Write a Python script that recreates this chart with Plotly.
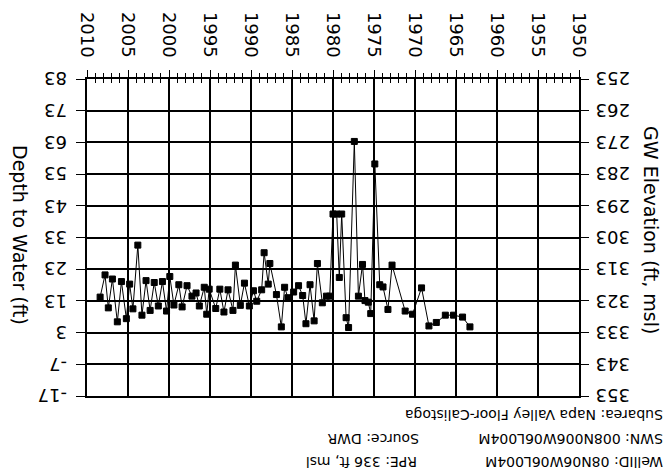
import plotly.graph_objects as go

years = [2008.4, 2007.8, 2007.4, 2006.9, 2006.3, 2005.8, 2005.2, 2004.8, 2004.4, 2003.8,
         2003.3, 2002.8, 2002.3, 2001.8, 2001.3, 2000.8, 2000.3, 1999.9, 1999.4, 1998.8,
         1998.4, 1997.8, 1997.2, 1996.7, 1996.3, 1995.7, 1995.4, 1995.1, 1994.3, 1993.8,
         1993.3, 1992.8, 1992.2, 1991.9, 1991.3, 1990.8, 1990.2, 1989.7, 1989.3, 1988.7,
         1988.4, 1987.9, 1987.7, 1986.9, 1986.3, 1985.9, 1985.5, 1984.8, 1984.2, 1983.7,
         1983.3, 1982.8, 1982.3, 1981.9, 1981.3, 1980.8, 1980.4, 1980.0, 1979.55, 1979.23,
         1978.94, 1978.4, 1978.1, 1977.4, 1976.9, 1976.4, 1976.1, 1975.7, 1975.4, 1974.9,
         1974.3, 1973.9, 1973.3, 1972.8, 1971.2, 1970.3, 1969.2, 1968.3, 1967.4, 1966.3,
         1965.3, 1964.2, 1963.3]
depth = [14.2, 21.2, 10.8, 19.9, 6.4, 19.1, 7.4, 18.3, 10.5, 30.6,
         8.5, 19.4, 10.0, 18.8, 11.4, 19.1, 9.8, 20.7, 11.7, 18.1,
         11.1, 17.8, 14.5, 15.5, 11.4, 17.3, 8.8, 16.7, 10.6, 16.7,
         9.5, 16.5, 10.0, 24.3, 11.6, 18.6, 11.4, 16.2, 12.9, 16.5,
         28.2, 18.3, 24.8, 15.0, 4.8, 17.3, 14.0, 15.8, 17.8, 14.7,
         5.8, 18.1, 6.7, 24.8, 12.4, 14.5, 14.5, 40.4, 40.4, 20.4,
         40.4, 7.7, 4.6, 63.3, 14.5, 24.5, 13.1, 12.6, 9.0, 56.2,
         18.1, 17.4, 10.3, 24.3, 9.8, 8.8, 17.1, 5.1, 6.2, 8.5,
         8.5, 7.9, 4.8]

depth_ticks = [83, 73, 63, 53, 43, 33, 23, 13, 3, -7, -17]
elev_ticks = [253, 263, 273, 283, 293, 303, 313, 323, 333, 343, 353]
year_ticks = [2010, 2005, 2000, 1995, 1990, 1985, 1980, 1975, 1970, 1965, 1960, 1955, 1950]

title_left = "Depth to Water (ft)"
title_right = "GW Elevation (ft, msl)"
info_texts = ["Subarea: Napa Valley Floor-Calistoga", "SWN: 008N006W06L004M", "Source: DWR",
              "WellID: 08N06W06L004M", "RPE: 336 ft, msl"]

FONT = "DejaVu Sans"
L, R, T, B = 87, 91, 75, 79
PW = 670 - L - R
PH = 475 - T - B


def px_x(xp):
    return (xp - L) / PW


def px_y(yp):
    return 1 - (yp - T) / PH


fig = go.Figure()
fig.add_trace(go.Scatter(
    x=years, y=depth, mode="lines+markers",
    line=dict(color="black", width=1),
    marker=dict(symbol="square", size=6, color="black", line=dict(color="black", width=1)),
    showlegend=False, hoverinfo="skip"))
# helper trace so the overlay axes are drawn
fig.add_trace(go.Scatter(
    x=[years[0]], y=[336 - depth[0]], mode="markers", xaxis="x2", yaxis="y2",
    marker=dict(opacity=0), showlegend=False, hoverinfo="skip"))

fig.update_layout(
    width=670, height=475,
    margin=dict(l=L, r=R, t=T, b=B),
    paper_bgcolor="white", plot_bgcolor="white",
    font=dict(family=FONT, size=18, color="black"),
    xaxis=dict(
        range=[2010, 1950], side="top", tickmode="array", tickvals=year_ticks,
        ticktext=[str(v) for v in year_ticks], tickangle=90,
        ticks="outside", ticklen=7, tickwidth=1, tickcolor="black",
        minor=dict(tickmode="linear", dtick=1, tick0=1950, ticks="outside", ticklen=4,
                   tickcolor="black", showgrid=False),
        showgrid=True, gridcolor="black", gridwidth=2,
        showline=True, linecolor="black", linewidth=2, mirror=True,
        zeroline=False, ticklabelstandoff=6,
        tickfont=dict(family=FONT, size=18)),
    xaxis2=dict(
        range=[2010, 1950], overlaying="x", anchor="y2", side="top",
        tickmode="array", tickvals=year_ticks, showticklabels=False,
        ticks="inside", ticklen=7, tickwidth=1, tickcolor="black",
        minor=dict(tickmode="linear", dtick=1, tick0=1950, ticks="inside", ticklen=4,
                   tickcolor="black", showgrid=False),
        showgrid=False, zeroline=False, showline=False),
    yaxis=dict(
        range=[-17, 83], tickmode="array", tickvals=depth_ticks, showticklabels=False,
        ticks="outside", ticklen=9, tickwidth=1, tickcolor="black",
        showgrid=True, gridcolor="black", gridwidth=2,
        showline=True, linecolor="black", linewidth=2, mirror=True,
        zeroline=False),
    yaxis2=dict(
        range=[353, 253], overlaying="y", side="right", anchor="x2",
        tickmode="array", tickvals=elev_ticks, showticklabels=False,
        ticks="outside", ticklen=9, tickwidth=1, tickcolor="black",
        showgrid=False, zeroline=False, showline=False),
)

annotations = []
# upside-down tick labels
for v in depth_ticks:
    annotations.append(dict(text=str(v), xref="paper", yref="y", x=px_x(69), y=v,
                            textangle=180, showarrow=False, xanchor="right", yanchor="middle",
                            font=dict(family=FONT, size=18, color="black")))
for v in elev_ticks:
    annotations.append(dict(text=str(v), xref="paper", yref="y2", x=px_x(594), y=v,
                            textangle=180, showarrow=False, xanchor="left", yanchor="middle",
                            font=dict(family=FONT, size=18, color="black")))
# axis titles
annotations.append(dict(text=title_left, xref="paper", yref="paper", x=px_x(20), y=px_y(233),
                        textangle=90, showarrow=False, xanchor="center", yanchor="middle",
                        font=dict(family=FONT, size=19, color="black")))
annotations.append(dict(text=title_right, xref="paper", yref="paper", x=px_x(651), y=px_y(228),
                        textangle=90, showarrow=False, xanchor="center", yanchor="middle",
                        font=dict(family=FONT, size=19, color="black")))
ann_info = [(info_texts[0], 664, 415), (info_texts[1], 664, 439), (info_texts[2], 420, 439),
            (info_texts[3], 664, 463), (info_texts[4], 418, 463)]
for t, xr, yc in ann_info:
    annotations.append(dict(text=t, xref="paper", yref="paper", x=px_x(xr), y=px_y(yc),
                            textangle=180, showarrow=False, xanchor="right", yanchor="middle",
                            borderpad=0,
                            font=dict(family=FONT, size=14, color="black")))
fig.update_layout(annotations=annotations)

fig.write_html("out.html")
